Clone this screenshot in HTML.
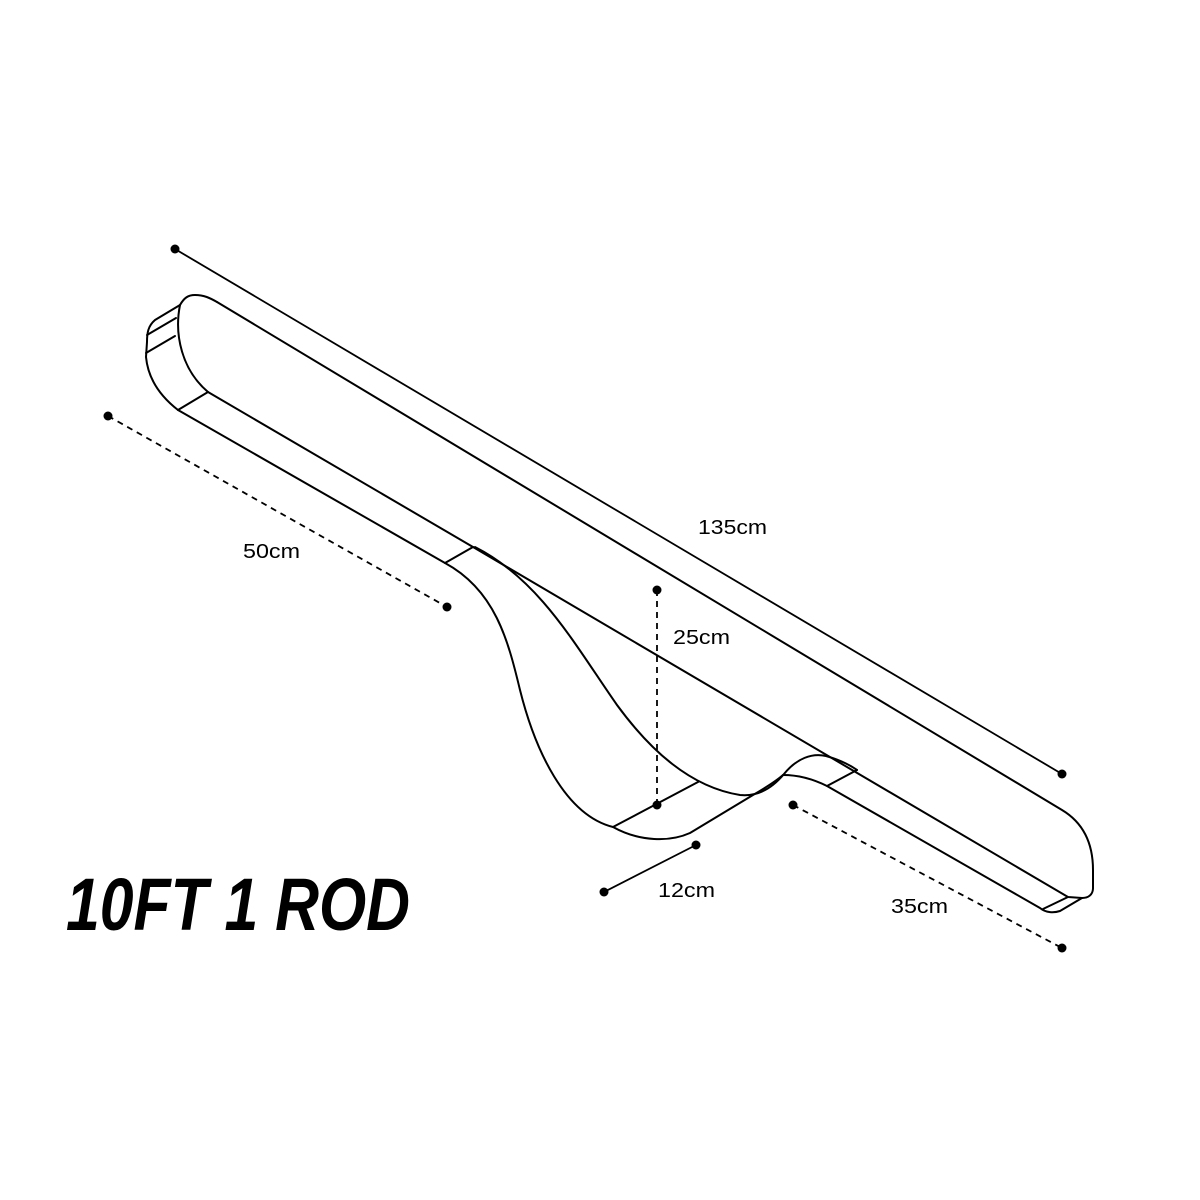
<!DOCTYPE html>
<html><head><meta charset="utf-8"><style>
html,body{margin:0;padding:0;background:#fff;}
svg{display:block;}
</style></head><body>
<svg width="1200" height="1200" viewBox="0 0 1200 1200" xmlns="http://www.w3.org/2000/svg">
<rect width="1200" height="1200" fill="#fff"/>
<g fill="none" stroke="#000" stroke-width="2" stroke-linejoin="round" stroke-linecap="round">
<!-- left end -->
<path d="M180,305 C184,298 188,295 195,295 C204,295 210,298 217,302"/>
<path d="M180,305 C174,335 182,370 208,392"/>
<path d="M180,305 L155,320 C148,326 147,333 147,342 L146,357 C148,378 160,396 178,410"/>
<path d="M147,335 L176,318"/>
<path d="M146,353 L175,336"/>
<path d="M178,410 L208,392"/>
<!-- top edge -->
<path d="M217,302 L1062,810 C1082,822 1093,842 1093,870 L1093,888 C1093,895 1088,898 1082,898"/>
<!-- top face lower edge -->
<path d="M208,392 L473,547"/>
<path d="M473,547 L1068,897 L1082,898"/>
<!-- outer side lower edge left -->
<path d="M178,410 L445,563"/>
<path d="M445,563 L473,547"/>
<!-- outer wave -->
<path d="M445,563 C495,590 508,640 520,690 C535,750 565,815 613,827 C640,842 670,842 690,833 L753,795 C765,788 775,782 783,775"/>
<!-- inner wave -->
<path d="M475,547 C540,580 575,645 617,705 C650,750 690,787 740,795 C760,797 774,786 784,774 C797,758 812,753 826,756 C840,760 850,765 857,770"/>
<!-- seam at bottom of wave -->
<path d="M613,827 L698,782"/>
<!-- right section bottom -->
<path d="M783,775 C800,775 815,780 827,786 L1040,908 C1046,913 1054,913 1060,911 L1082,898"/>
<path d="M827,786 L857,770"/>
<path d="M1043,909 L1068,897"/>
</g>
<!-- dimension lines -->
<g stroke="#000" stroke-width="1.8" fill="none">
<line x1="175" y1="249" x2="1062" y2="774"/>
<line x1="108" y1="416" x2="447" y2="607" stroke-dasharray="6,5"/>
<line x1="657" y1="590" x2="657" y2="805" stroke-dasharray="6,5"/>
<line x1="604" y1="892" x2="696" y2="845"/>
<line x1="793" y1="805" x2="1062" y2="948" stroke-dasharray="6,5"/>
</g>
<g fill="#000">
<circle cx="175" cy="249" r="4.5"/><circle cx="1062" cy="774" r="4.5"/>
<circle cx="108" cy="416" r="4.5"/><circle cx="447" cy="607" r="4.5"/>
<circle cx="657" cy="590" r="4.5"/><circle cx="657" cy="805" r="4.5"/>
<circle cx="604" cy="892" r="4.5"/><circle cx="696" cy="845" r="4.5"/>
<circle cx="793" cy="805" r="4.5"/><circle cx="1062" cy="948" r="4.5"/>
</g>
<g font-family="'Liberation Sans', sans-serif" font-size="20" fill="#000">
<text x="698" y="534" textLength="69" lengthAdjust="spacingAndGlyphs">135cm</text>
<text x="243" y="558" textLength="57" lengthAdjust="spacingAndGlyphs">50cm</text>
<text x="673" y="644" textLength="57" lengthAdjust="spacingAndGlyphs">25cm</text>
<text x="658" y="897" textLength="57" lengthAdjust="spacingAndGlyphs">12cm</text>
<text x="891" y="913" textLength="57" lengthAdjust="spacingAndGlyphs">35cm</text>
</g>
<text x="66" y="930" font-family="'Liberation Sans', sans-serif" font-weight="bold" font-style="italic" font-size="74" textLength="344" lengthAdjust="spacingAndGlyphs" fill="#000">10FT 1 ROD</text>
</svg>
</body></html>
